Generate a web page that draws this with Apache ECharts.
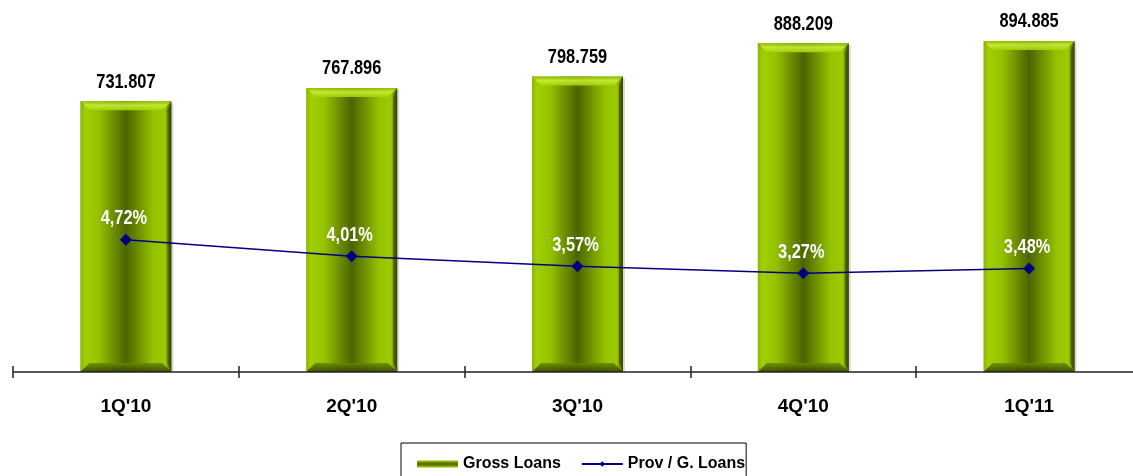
<!DOCTYPE html>
<html>
<head>
<meta charset="utf-8">
<script src="https://cdn.jsdelivr.net/npm/echarts@6/dist/echarts.min.js"></script>
<style>
  html, body { margin: 0; padding: 0; background: #fff; overflow: hidden; }
  #chart { width: 1142px; height: 476px; }
</style>
</head>
<body>
<div id="chart"></div>
<script>
// Quarterly gross loans (bars) and provisions / gross loans ratio (line)
const quarters = ["1Q'10", "2Q'10", "3Q'10", "4Q'10", "1Q'11"];
const grossLoans = [731807, 767896, 798759, 888209, 894885];
const provRatio = [4.72, 4.01, 3.57, 3.27, 3.48];

const FONT = '"Liberation Sans", Arial, sans-serif';
// data labels use a condensed bold face: bold sans squeezed horizontally
const LABEL_FONT = 'bold 20px "Liberation Sans", Arial, sans-serif';
const SQUEEZE = 0.82;

function fmtThousands(v) {
  return (v / 1000).toFixed(3);
}
function fmtPct(v) {
  return v.toFixed(2).replace('.', ',') + '%';
}

function squeezedText(x, y, text, fill) {
  return {
    type: 'text', x: x, y: y, scaleX: SQUEEZE,
    style: { x: 0, y: 0, text: text, align: 'center', verticalAlign: 'bottom',
      font: LABEL_FONT, fill: fill }
  };
}

// Bevelled green column: horizontal gradient body with light top / dark bottom bevels,
// plus the value printed above it
function renderBar(params, api) {
  const idx = api.value(0);
  const val = api.value(1);
  const top = api.coord([idx, val]);
  const base = api.coord([idx, 0]);
  const w = 91;
  const x = top[0] - w / 2;
  const y = top[1];
  const h = base[1] - top[1];
  const b = 9;
  const body = new echarts.graphic.LinearGradient(0, 0, 1, 0, [
    { offset: 0, color: '#7d9f00' },
    { offset: 0.05, color: '#a0d000' },
    { offset: 0.2, color: '#94c200' },
    { offset: 0.5, color: '#4c6400' },
    { offset: 0.8, color: '#94c200' },
    { offset: 0.93, color: '#9ccb00' },
    { offset: 1, color: '#4a5e00' }
  ]);
  const topBevel = new echarts.graphic.LinearGradient(0, 0, 0, 1, [
    { offset: 0, color: '#8fb800' },
    { offset: 0.45, color: '#c6ec3c' },
    { offset: 1, color: '#a6d400' }
  ]);
  const botBevel = new echarts.graphic.LinearGradient(0, 0, 0, 1, [
    { offset: 0, color: '#6a8a00' },
    { offset: 1, color: '#2c3a00' }
  ]);
  return {
    type: 'group',
    children: [
      { type: 'rect', shape: { x: x + 2, y: y + 2, width: w, height: h - 2 },
        style: { fill: 'rgba(0,0,0,0.15)' } },
      { type: 'rect', shape: { x: x, y: y, width: w, height: h },
        style: { fill: body } },
      { type: 'polygon', shape: { points: [[x, y], [x + w, y], [x + w - b, y + b], [x + b, y + b]] },
        style: { fill: topBevel, opacity: 0.9 } },
      { type: 'polygon', shape: { points: [[x, y + h], [x + w, y + h], [x + w - b, y + h - b], [x + b, y + h - b]] },
        style: { fill: botBevel, opacity: 0.85 } },
      { type: 'polygon', shape: { points: [[x, y], [x + 4, y + b], [x + 4, y + h - b], [x, y + h]] },
        style: { fill: 'rgba(170,215,20,0.35)' } },
      { type: 'polygon', shape: { points: [[x + w, y], [x + w - 4, y + b], [x + w - 4, y + h - b], [x + w, y + h]] },
        style: { fill: 'rgba(30,40,0,0.45)' } },
      squeezedText(top[0], y - 9, fmtThousands(val), '#000')
    ]
  };
}

// White percentage captions above each point of the ratio line
function renderRatioLabel(params, api) {
  const p = api.coord([api.value(0), api.value(1)]);
  return squeezedText(p[0] - 2, p[1] - 11, fmtPct(api.value(1)), '#fff');
}

const chart = echarts.init(document.getElementById('chart'), null, { renderer: 'canvas' });
chart.setOption({
  animation: false,
  backgroundColor: '#fff',
  grid: { left: 13, right: 0, top: 2, bottom: 104, containLabel: false },
  legend: {
    left: 401, top: 443,
    padding: [13, 1, 14, 16],
    borderColor: '#000', borderWidth: 1,
    itemGap: 20,
    itemWidth: 41, itemHeight: 7,
    textStyle: { fontFamily: FONT, fontWeight: 'bold', fontSize: 16, color: '#000' },
    data: [
      { name: 'Gross Loans', icon: 'rect',
        itemStyle: { color: new echarts.graphic.LinearGradient(0, 0, 0, 1, [
          { offset: 0, color: '#9ccc00' }, { offset: 0.5, color: '#4b6300' }, { offset: 1, color: '#9ccc00' }]) } },
      { name: 'Prov / G. Loans' }
    ]
  },
  xAxis: {
    type: 'category', data: quarters, position: 'bottom', offset: -6,
    axisLine: { show: false },
    axisTick: { show: true, length: 12, lineStyle: { color: '#222', width: 1.5 } },
    axisLabel: { margin: 31, fontFamily: FONT, fontWeight: 'bold', fontSize: 19, color: '#000' }
  },
  yAxis: [
    { type: 'value', min: 0, max: 1000000, show: false, splitLine: { show: false } },
    { type: 'value', min: -1, max: 15, show: false, splitLine: { show: false } }
  ],
  series: [
    {
      name: 'Gross Loans', type: 'custom', xAxisIndex: 0, yAxisIndex: 0,
      renderItem: renderBar,
      itemStyle: { color: '#7aa000' },
      data: grossLoans.map((v, i) => [i, v]),
      encode: { x: 0, y: 1 },
      z: 1
    },
    {
      name: 'Prov / G. Loans', type: 'line', xAxisIndex: 0, yAxisIndex: 1,
      data: provRatio,
      symbol: 'diamond', symbolSize: 12,
      lineStyle: { color: '#000080', width: 1.5 },
      itemStyle: { color: '#000080' },
      // category axis baseline along the bottom of the plot
      markLine: {
        silent: true, symbol: 'none', label: { show: false },
        lineStyle: { color: '#222', width: 1.5, type: 'solid' },
        data: [{ yAxis: -1 }]
      },
      z: 3
    },
    {
      name: 'ratio labels', type: 'custom', xAxisIndex: 0, yAxisIndex: 1,
      renderItem: renderRatioLabel,
      data: provRatio.map((v, i) => [i, v]),
      encode: { x: 0, y: 1 },
      silent: true,
      z: 4
    }
  ]
});
</script>
</body>
</html>
